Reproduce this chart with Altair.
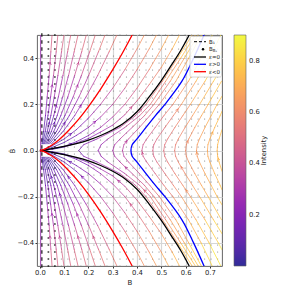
import altair as alt
import numpy as np
import pandas as pd

# ---------------- values (upper half, Bdot >= 0) ----------------
# steep streamlines left of the red curve: common Bdot levels, B per line
L_BDOT = [0.029, 0.082, 0.151, 0.232, 0.325, 0.427, 0.5]
L1_B = [0.048, 0.095, 0.143, 0.19, 0.238, 0.285, 0.317]
L2_B = [0.04, 0.08, 0.121, 0.161, 0.201, 0.241, 0.268]
L3_B = [0.034, 0.068, 0.103, 0.137, 0.171, 0.205, 0.228]
L4_B = [0.029, 0.057, 0.086, 0.115, 0.143, 0.172, 0.191]
L5_B = [0.024, 0.047, 0.071, 0.094, 0.118, 0.141, 0.157]
L6_B = [0.019, 0.038, 0.057, 0.076, 0.095, 0.114, 0.127]
L7_B = [0.015, 0.03, 0.045, 0.059, 0.074, 0.089, 0.099]
L8_B = [0.011, 0.022, 0.033, 0.044, 0.056, 0.067, 0.074]
L9_B = [0.008, 0.015, 0.023, 0.03, 0.038, 0.045, 0.05]
L0_B = [0.003, 0.003]
L0_BD = [0.0, 0.5]

# streamlines between the red and the black curve
M1_B = [0.01, 0.05, 0.1, 0.15, 0.2, 0.25, 0.3, 0.35, 0.4, 0.43]
M1_BD = [0.002, 0.02, 0.05, 0.09, 0.14, 0.2, 0.27, 0.35, 0.44, 0.5]
M2_B = [0.015, 0.05, 0.1, 0.15, 0.2, 0.25, 0.3, 0.35, 0.4, 0.45, 0.48]
M2_BD = [0.002, 0.013, 0.035, 0.065, 0.1, 0.145, 0.2, 0.27, 0.35, 0.44, 0.5]
M3_B = [0.02, 0.05, 0.1, 0.15, 0.2, 0.25, 0.3, 0.35, 0.4, 0.45, 0.5, 0.53]
M3_BD = [0.001, 0.006, 0.018, 0.038, 0.065, 0.1, 0.145, 0.2, 0.27, 0.35, 0.44, 0.5]
M4_B = [0.05, 0.1, 0.15, 0.2, 0.25, 0.3, 0.35, 0.4, 0.45, 0.5, 0.545, 0.575]
M4_BD = [0.005, 0.015, 0.032, 0.052, 0.08, 0.11, 0.155, 0.215, 0.285, 0.36, 0.44, 0.5]

# turning-point streamlines right of the black curve
V_BD = [0, 0.025, 0.05, 0.1, 0.15, 0.2, 0.3, 0.4, 0.5]
V1_B = [0.16, 0.18, 0.235, 0.33, 0.393, 0.437, 0.505, 0.567, 0.627]
V2_B = [0.24, 0.252, 0.28, 0.35, 0.41, 0.455, 0.518, 0.58, 0.64]
V3_B = [0.30, 0.308, 0.33, 0.38, 0.43, 0.47, 0.537, 0.595, 0.652]
V4_B = [0.34, 0.346, 0.365, 0.41, 0.452, 0.492, 0.56, 0.613, 0.665]
V5_B = [0.42, 0.425, 0.44, 0.475, 0.51, 0.548, 0.612, 0.664, 0.71]
V6_B = [0.465, 0.469, 0.482, 0.515, 0.549, 0.583, 0.643, 0.697, 0.745]
V7_B = [0.51, 0.514, 0.526, 0.556, 0.588, 0.62, 0.68, 0.735, 0.75]
V7_BD = [0, 0.025, 0.05, 0.1, 0.15, 0.2, 0.3, 0.4, 0.43]
V8_B = [0.555, 0.559, 0.57, 0.598, 0.628, 0.658, 0.715, 0.75]
V8_BD = [0, 0.025, 0.05, 0.1, 0.15, 0.2, 0.3, 0.36]
V9_B = [0.60, 0.603, 0.613, 0.638, 0.665, 0.693, 0.748]
V9_BD = [0, 0.025, 0.05, 0.1, 0.15, 0.2, 0.3]
V10_B = [0.645, 0.648, 0.657, 0.68, 0.705, 0.73, 0.75]
V10_BD = [0, 0.025, 0.05, 0.1, 0.15, 0.2, 0.235]
V11_B = [0.69, 0.692, 0.70, 0.72, 0.742, 0.75]
V11_BD = [0, 0.025, 0.05, 0.1, 0.15, 0.17]
V12_B = [0.73, 0.732, 0.738, 0.75]
V12_BD = [0, 0.025, 0.05, 0.09]

# highlighted curves
RED_B = [0.0, 0.005, 0.02, 0.05, 0.08, 0.12, 0.16, 0.2, 0.25, 0.3, 0.34, 0.38]
RED_BD = [0.0, 0.001, 0.006, 0.024, 0.048, 0.089, 0.136, 0.19, 0.266, 0.35, 0.422, 0.5]
BLACK_B = [0, 0.03, 0.06, 0.1, 0.15, 0.2, 0.25, 0.3, 0.35, 0.4, 0.45, 0.5, 0.54, 0.58, 0.615]
BLACK_BD = [0, 0.004, 0.01, 0.018, 0.03, 0.045, 0.065, 0.09, 0.122, 0.168, 0.232, 0.303, 0.367, 0.433, 0.5]
BLUE_B = [0.375, 0.38, 0.40, 0.437, 0.475, 0.515, 0.585, 0.633, 0.676]
BLUE_BD = V_BD

# quiver grid of the field
GRID_B = np.linspace(0.008, 0.732, 28)
GRID_BD = np.linspace(-0.5, 0.5, 34)

XTICKS = [0.0, 0.1, 0.2, 0.3, 0.4, 0.5, 0.6, 0.7]
YTICKS = [-0.4, -0.2, 0.0, 0.2, 0.4]
CBAR_TICKS = [0.2, 0.4, 0.6, 0.8]
LEGEND_LABELS = ["B₁", "B", "ε=0", "ε>0", "ε<0"]

# ---------------- build tables ----------------
origin_curves = [(L0_B, L0_BD)] + [(b, L_BDOT) for b in
                 [L1_B, L2_B, L3_B, L4_B, L5_B, L6_B, L7_B, L8_B, L9_B]] + \
                [(M1_B, M1_BD), (M2_B, M2_BD), (M3_B, M3_BD), (M4_B, M4_BD)]
vertex_curves = [(V1_B, V_BD), (V2_B, V_BD), (V3_B, V_BD), (V4_B, V_BD), (V5_B, V_BD),
                 (V6_B, V_BD), (V7_B, V7_BD), (V8_B, V8_BD), (V9_B, V9_BD),
                 (V10_B, V10_BD), (V11_B, V11_BD), (V12_B, V12_BD)]

# paths are stored in the direction of the flow (B grows where Bdot > 0)
paths = []
for b, bd in origin_curves:
    paths.append(list(zip(b, bd)))
    paths.append(list(zip(b, [-v for v in bd]))[::-1])
for b, bd in vertex_curves:
    up = list(zip(b, bd))
    lo = list(zip(b, [-v for v in bd]))[1:][::-1]
    paths.append(lo + up)

PX_X, PX_Y = 243.0, 230.0  # pixels per data unit, used only to shape the arrow heads
ARROW_POS = [0.35, 0.65, 0.5, 0.8, 0.25]  # where along each path its arrow head sits
seg_rows = []
for i, p in enumerate(paths):
    for (x1, y1), (x2, y2) in zip(p[:-1], p[1:]):
        seg_rows.append({"x": x1, "y": y1, "x2": x2, "y2": y2})
    if len(p) > 3:
        k = min(len(p) - 1, max(1, int(round((len(p) - 1) * ARROW_POS[i % len(ARROW_POS)]))))
        (x1, y1), (x2, y2) = p[k - 1], p[k]
        ux, uy = (x2 - x1) * PX_X, (y2 - y1) * PX_Y
        n = np.hypot(ux, uy)
        ux, uy = ux / n, uy / n
        tx, ty = (x1 + x2) / 2 + ux * 1.2 / PX_X, (y1 + y2) / 2 + uy * 1.2 / PX_Y
        for s in (1, -1):
            a = np.radians(150 * s)
            wx = ux * np.cos(a) - uy * np.sin(a)
            wy = ux * np.sin(a) + uy * np.cos(a)
            seg_rows.append({"x": tx, "y": ty, "x2": tx + wx * 2.4 / PX_X, "y2": ty + wy * 2.4 / PX_Y})
seg = pd.DataFrame(seg_rows)

line_rows = []
for name, b, bd in [("black", BLACK_B, BLACK_BD), ("red", RED_B, RED_BD)]:
    for i, (x, y) in enumerate(zip(b, bd)):
        line_rows.append({"curve": name, "branch": name + "_u", "o": i, "x": x, "y": y})
        line_rows.append({"curve": name, "branch": name + "_l", "o": i, "x": x, "y": -y})
blue_pts = list(zip(BLUE_B, [-v for v in BLUE_BD]))[1:][::-1] + list(zip(BLUE_B, BLUE_BD))
for i, (x, y) in enumerate(blue_pts):
    line_rows.append({"curve": "blue", "branch": "blue", "o": i, "x": x, "y": y})
lines = pd.DataFrame(line_rows)

gx, gy = np.meshgrid(GRID_B, GRID_BD)
grid = pd.DataFrame({"x": gx.ravel(), "y": gy.ravel()})
grid["col"] = np.tile(np.arange(len(GRID_B)), len(GRID_BD))
g_gray = grid[grid.col >= 3]
g_dark = grid[(grid.col >= 1) & (grid.col < 3)]
g_dash = grid[grid.col == 0].copy()
g_dash["y1"] = g_dash.y - 0.008
g_dash["y2"] = g_dash.y + 0.008

# ---------------- chart ----------------
FONT = "DejaVu Sans"
xs = alt.Scale(domain=[-0.012, 0.75], nice=False, zero=False)
ys = alt.Scale(domain=[-0.5, 0.5], nice=False, zero=False)
xaxis = alt.Axis(values=XTICKS, format=".1f", title="B", grid=True, domain=False,
                 tickSize=2, labelPadding=1.5, titlePadding=2)
yaxis = alt.Axis(values=YTICKS, format=".1f", title="Ḃ", grid=True, domain=False,
                 tickSize=2, labelPadding=1.5, titlePadding=1)
X = alt.X("x:Q", scale=xs, axis=xaxis)
Y = alt.Y("y:Q", scale=ys, axis=yaxis)
cscale = alt.Scale(scheme="plasma", domain=[0, 0.9])
clegend = alt.Legend(title=None, type="gradient", orient="right", offset=12, padding=0,
                     gradientLength=231, gradientThickness=12,
                     values=CBAR_TICKS, format=".1f", labelOffset=3,
                     gradientStrokeColor="#444", gradientStrokeWidth=0.6)
INT = "sqrt(pow((datum.x+datum.x2)/2,2)+pow((datum.y+datum.y2)/2,2))"

dots = alt.Chart(g_gray).mark_circle(size=1.5, color="#7a7a7a", opacity=0.9).encode(x=X, y=Y)
darkdots = alt.Chart(g_dark).mark_circle(size=4, color="#111").encode(x=X, y=Y)
dashes = alt.Chart(g_dash).mark_rule(color="#111", strokeWidth=1.2).encode(
    x=X, y=alt.Y("y1:Q", scale=ys, axis=yaxis), y2="y2:Q")

stream = alt.Chart(seg).transform_calculate(I=INT).mark_rule(
    strokeWidth=0.8, strokeCap="round", clip=True, opacity=0.85).encode(
    x=X, y=Y, x2="x2:Q", y2="y2:Q",
    color=alt.Color("I:Q", scale=cscale, legend=clegend))

special = alt.Chart(lines).mark_line(strokeWidth=1.3, interpolate="catmull-rom", clip=True).encode(
    x=X, y=Y, detail="branch:N", order="o:Q",
    stroke=alt.Stroke("curve:N", scale=alt.Scale(domain=["black", "blue", "red"],
                                                  range=["black", "blue", "red"]), legend=None))

one = pd.DataFrame({"a": [0]})
box = alt.Chart(one).mark_rect(fill="white", fillOpacity=0.85, stroke="#cccccc",
                               strokeWidth=0.8, cornerRadius=1.5).encode(
    x=alt.value(153), x2=alt.value(184.5), y=alt.value(1.5), y2=alt.value(42))
leg_layers = [box]
rows_y = [6.7, 14.3, 22, 29.3, 36.7]
leg_layers.append(alt.Chart(one).mark_rule(color="black", strokeWidth=1, strokeDash=[3, 2]).encode(
    x=alt.value(157), x2=alt.value(169), y=alt.value(rows_y[0])))
leg_layers.append(alt.Chart(one).mark_circle(color="black", size=6, opacity=1).encode(
    x=alt.value(166), y=alt.value(rows_y[1])))
for yy, c in zip(rows_y[2:], ["black", "blue", "red"]):
    leg_layers.append(alt.Chart(one).mark_rule(color=c, strokeWidth=1.3).encode(
        x=alt.value(157), x2=alt.value(169), y=alt.value(yy)))
for yy, t in zip(rows_y, LEGEND_LABELS):
    leg_layers.append(alt.Chart(one).mark_text(text=t, fontSize=5.5, align="left", baseline="middle",
                                               font=FONT, color="#222").encode(
        x=alt.value(172), y=alt.value(yy)))
leg_layers.append(alt.Chart(one).mark_text(text="B₁", fontSize=4, align="left", baseline="middle",
                                           font=FONT, color="#222").encode(
    x=alt.value(175.8), y=alt.value(rows_y[1] + 1.6)))
cbar_title = alt.Chart(one).mark_text(text="Intensity", fontSize=6.8, angle=270, align="center",
                                      baseline="middle", font=FONT, color="#222").encode(
    x=alt.value(227), y=alt.value(115.5))

chart = alt.layer(dots, darkdots, dashes, stream, special, *leg_layers, cbar_title).properties(
    width=185, height=231,
    padding={"left": 29, "top": 27, "right": 69, "bottom": 25},
    autosize=alt.AutoSizeParams(type="none"),
).configure_view(stroke="#555", strokeWidth=0.9).configure_axis(
    labelFont=FONT, titleFont=FONT, labelFontSize=6.8, titleFontSize=7, titleFontWeight="normal",
    labelColor="#222", titleColor="#222", tickColor="#333", gridColor="#d6d6d6", gridWidth=1.2
).configure_legend(labelFont=FONT, titleFont=FONT, labelFontSize=6.8, titleFontSize=6.8,
                   titleFontWeight="normal", labelColor="#222", titleColor="#222")

chart.save("out.html", embed_options={"renderer": "svg", "actions": False})
